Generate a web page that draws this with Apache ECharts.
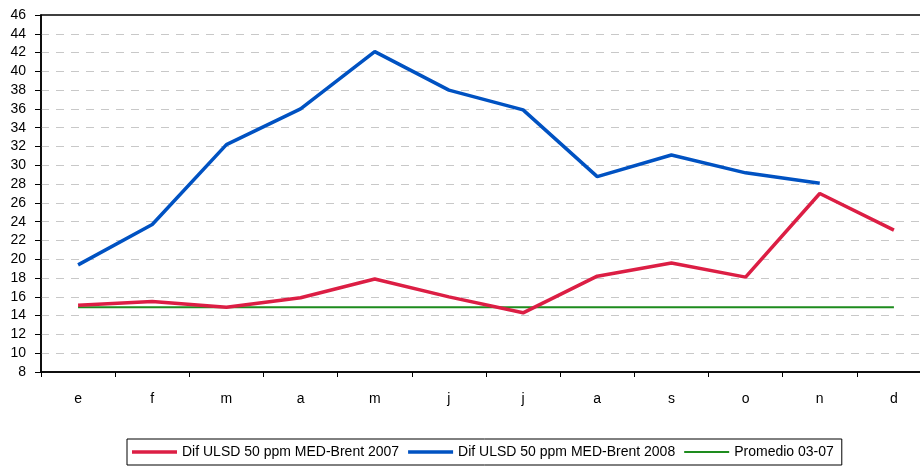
<!DOCTYPE html>
<html>
<head>
<meta charset="utf-8">
<script src="https://cdn.jsdelivr.net/npm/echarts@6/dist/echarts.min.js"></script>
<style>html,body{margin:0;padding:0;background:#fff}#c{width:920px;height:466px}</style>
</head>
<body>
<div id="c"></div>
<script>
var categories = ['e','f','m','a','m','j','j','a','s','o','n','d'];
var serie2007 = [15.1, 15.5, 14.9, 15.9, 17.9, 16.0, 14.3, 18.2, 19.6, 18.1, 27.0, 23.1];
var serie2008 = [19.4, 23.7, 32.2, 36.0, 42.1, 38.0, 35.9, 28.8, 31.1, 29.2, 28.1, null];
var promedio = [14.9, 14.9, 14.9, 14.9, 14.9, 14.9, 14.9, 14.9, 14.9, 14.9, 14.9, 14.9];
var names = ['Dif ULSD 50 ppm MED-Brent 2007', 'Dif ULSD 50 ppm MED-Brent 2008', 'Promedio 03-07'];

var chart = echarts.init(document.getElementById('c'), null, {renderer: 'canvas'});
var font = 'Liberation Sans, Arial, sans-serif';
chart.setOption({
  animation: false,
  backgroundColor: '#fff',
  textStyle: {fontFamily: font},
  grid: {left: 41, top: 15, width: 890, height: 357, show: true, borderColor: '#000', borderWidth: 1.5, containLabel: false, outerBoundsMode: 'none'},
  legend: {
    data: [
      {name: names[0], icon: 'path://M0,0H45V3.5H0Z'},
      {name: names[1], icon: 'path://M0,0H45V3.5H0Z'},
      {name: names[2], icon: 'path://M0,0H45V2H0Z'}
    ],
    left: 127, top: 439,
    padding: [6, 8, 6, 5],
    itemGap: 9, itemWidth: 45, itemHeight: 14,
    borderColor: '#000', borderWidth: 1,
    textStyle: {fontFamily: font, fontSize: 14, color: '#000'}
  },
  xAxis: {
    type: 'category', data: categories, boundaryGap: true,
    axisLine: {lineStyle: {color: '#000', width: 1.5}},
    axisTick: {show: true, length: 5, inside: false, lineStyle: {color: '#000'}},
    axisLabel: {fontFamily: font, fontSize: 14, color: '#000', margin: 20},
    splitLine: {show: false}
  },
  yAxis: {
    type: 'value', min: 8, max: 46, interval: 2,
    axisLine: {show: true, lineStyle: {color: '#000', width: 1.5}},
    axisTick: {show: true, length: 6, lineStyle: {color: '#000'}},
    axisLabel: {fontFamily: font, fontSize: 14, color: '#000', margin: 15},
    splitLine: {show: true, showMaxLine: false, showMinLine: false, lineStyle: {color: '#c8c8c8', type: [8, 7], width: 1}}
  },
  series: [
    {name: names[0], type: 'line', data: serie2007, symbol: 'none', color: '#DC1E44', lineStyle: {width: 3.5, color: '#DC1E44'}, z: 3},
    {name: names[1], type: 'line', data: serie2008, symbol: 'none', color: '#0052C2', lineStyle: {width: 3.5, color: '#0052C2'}, z: 4},
    {name: names[2], type: 'line', data: promedio, symbol: 'none', color: '#1E8C1E', lineStyle: {width: 2, color: '#1E8C1E'}, z: 2}
  ]
});
</script>
</body>
</html>
